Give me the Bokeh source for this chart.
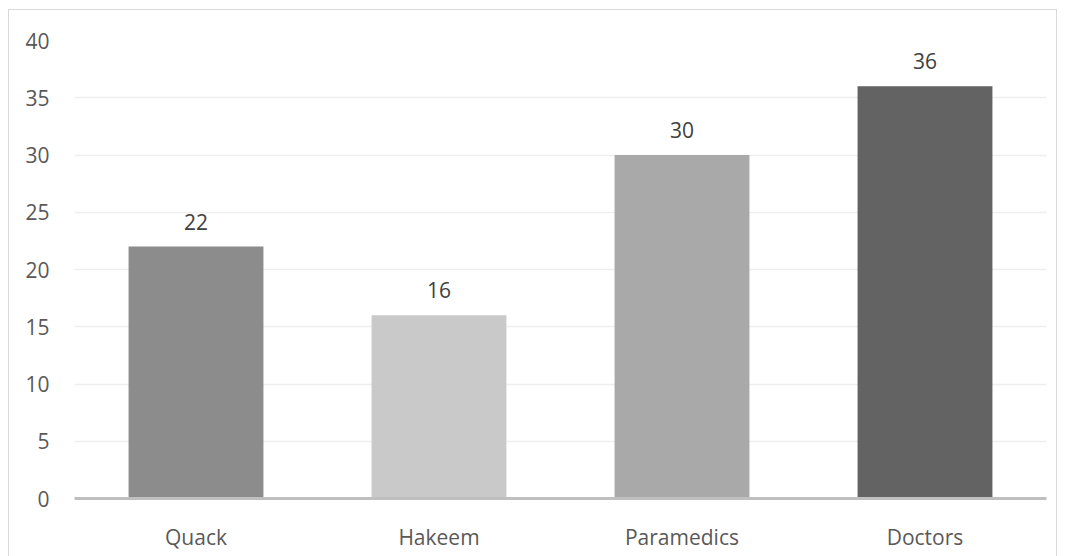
from bokeh.plotting import figure
from bokeh.models import ColumnDataSource, FixedTicker, Range1d
from bokeh.embed import file_html
from bokeh.resources import INLINE
from bokeh.core.properties import value

categories = ["Quack", "Hakeem", "Paramedics", "Doctors"]
counts = [22, 16, 30, 36]
bar_colors = ["#8c8c8c", "#c9c9c9", "#a9a9a9", "#636363"]
y_ticks = [0, 5, 10, 15, 20, 25, 30, 35, 40]

src = ColumnDataSource(dict(cat=categories, val=counts, color=bar_colors,
                            lab=[str(v) for v in counts]))

p = figure(x_range=categories, y_range=Range1d(0, 40), width=1049, height=548,
           output_backend="svg", toolbar_location=None,
           min_border_left=65, min_border_right=12, min_border_top=30, min_border_bottom=60,
           margin=(9, 0, 0, 8),
           styles={"border": "1px solid #d9d9d9", "box-sizing": "border-box"})
p.outline_line_color = None
p.background_fill_color = "white"
p.border_fill_color = "white"

p.vbar(x="cat", top="val", width=0.555, color="color", source=src, line_color=None)

p.text(x="cat", y="val", text="lab", source=src, text_align="center", text_baseline="middle",
       y_offset=-25, text_font=value("Open Sans"), text_font_size="21px", text_color="#404040")

p.yaxis.ticker = FixedTicker(ticks=y_ticks)
for ax in (p.xaxis[0], p.yaxis[0]):
    ax.major_tick_line_color = None
    ax.minor_tick_line_color = None
    ax.major_label_text_font = "Open Sans"
    ax.major_label_text_font_size = "21px"
    ax.major_label_text_color = "#595959"
p.yaxis.axis_line_color = None
p.xaxis.axis_line_color = "#bfbfbf"
p.xaxis.axis_line_width = 3
p.yaxis.major_label_standoff = 19
p.xaxis.major_label_standoff = 18

p.xgrid.grid_line_color = None
p.ygrid.grid_line_color = "#eeeeee"
p.ygrid.grid_line_width = 1.5

open("out.html", "w").write(file_html(p, INLINE))
